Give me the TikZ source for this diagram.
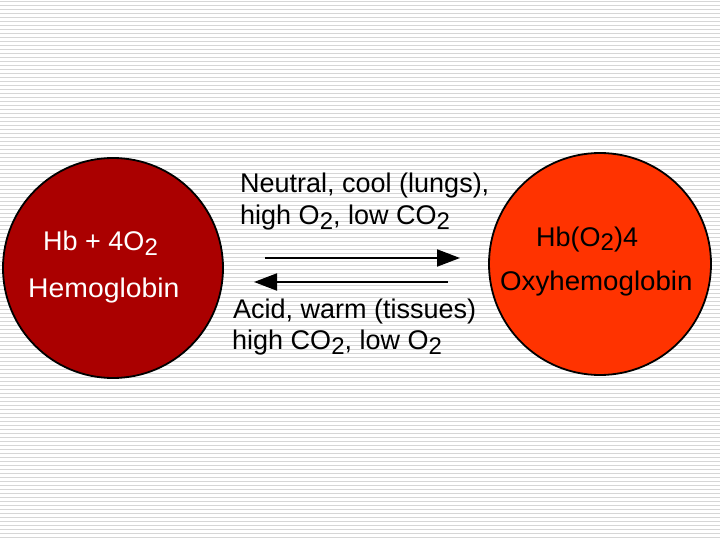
\documentclass[tikz,border=0pt]{standalone}
\usepackage{fontspec}
\setmainfont{Liberation Sans}
\usetikzlibrary{arrows.meta}
\definecolor{hbred}{RGB}{170,0,0}
\definecolor{oxyred}{RGB}{255,51,0}
\definecolor{stripe}{RGB}{214,214,214}
\newcommand{\subtwo}{\raisebox{-5pt}{\fontsize{24}{24}\selectfont 2}}
\tikzset{
  txt/.style={anchor=base west, inner sep=0pt, font=\fontsize{27}{27}\selectfont},
  blob/.style={circle, draw=black, line width=1.8pt, inner sep=0pt},
  flow/.style={line width=2pt, -{Triangle[length=23pt,width=17pt]}}
}
\begin{document}
\begin{tikzpicture}[x=1pt,y=-1pt]
\useasboundingbox (0,0) rectangle (720,540);
\fill[white] (0,0) rectangle (720,540);
\foreach \k in {0,...,134} {
  \fill[stripe] (0,{4*\k+1}) rectangle (720,{4*\k+2.4});
}
\node[blob, fill=hbred, minimum size=220pt] (hb) at (113,268) {};
\node[blob, fill=oxyred, minimum size=222pt] (oxy) at (600,264) {};
\node[txt, text=white] (hb1) at (43,251) {Hb + 4O\subtwo};
\node[txt, text=white] (hb2) at (28,297) {\scalebox{1.05}[1]{Hemoglobin}};
\node[txt] (oxy1) at (536,247) {Hb(O\raisebox{-3pt}{\fontsize{24}{24}\selectfont 2})4};
\node[txt] (oxy2) at (500,290) {\scalebox{1.025}[1]{Oxyhemoglobin}};
\node[txt] (m1) at (240,193) {Neutral, cool (lungs),};
\node[txt] (m2) at (240,225) {high O\subtwo, low CO\subtwo};
\node[txt] (m3) at (233,318) {Acid, warm (tissues)};
\node[txt] (m4) at (232,349) {high CO\subtwo, low O\subtwo};
\coordinate (f1s) at (265,258);
\coordinate (f1e) at (460,258);
\coordinate (f2s) at (448,282);
\coordinate (f2e) at (254,282);
\draw[flow] (f1s) -- (f1e);
\draw[flow] (f2s) -- (f2e);
\end{tikzpicture}
\end{document}
